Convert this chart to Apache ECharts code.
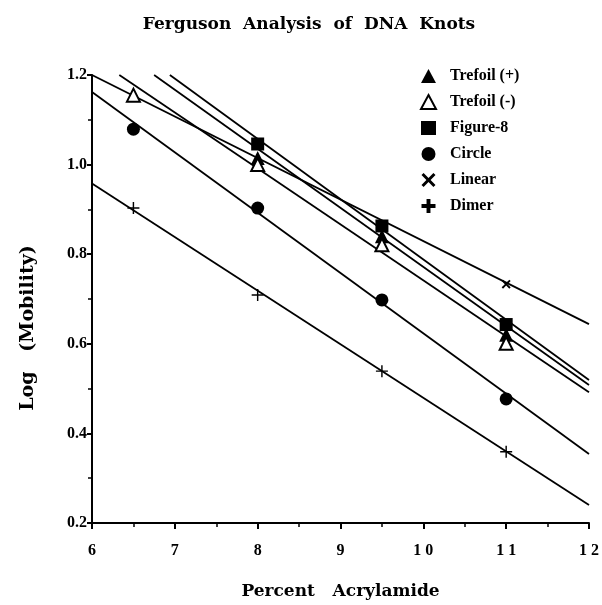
<!DOCTYPE html>
<html>
<head>
  <meta charset="utf-8">
  <title>Ferguson Analysis of DNA Knots</title>
  <style>
    html, body { margin: 0; padding: 0; background: #fff; }
    #main { width: 602px; height: 605px; }
  </style>
</head>
<body>
<div id="main"></div>
<script type="text/javascript" src="https://cdn.jsdelivr.net/npm/echarts@6.0.0/dist/echarts.min.js"></script>
<script type="text/javascript">
// measured points (percent acrylamide, log mobility)
var trefoilPlus  = [[8, 1.015], [9.5, 0.84], [11, 0.62]];
var trefoilMinus = [[6.5, 1.155], [8, 1.0], [9.5, 0.821], [11, 0.601]];
var figure8      = [[8, 1.046], [9.5, 0.863], [11, 0.643]];
var circle       = [[6.5, 1.079], [8, 0.903], [9.5, 0.698], [11, 0.477]];
var linear       = [[11, 0.733]];
var dimer        = [[6.5, 0.903], [8, 0.709], [9.5, 0.539], [11, 0.359]];

// fitted lines, end points
var fitLinear       = [[6, 1.2], [12, 0.644]];
var fitTrefoilMinus = [[6.33, 1.2], [12, 0.492]];
var fitTrefoilPlus  = [[6.75, 1.2], [12, 0.508]];
var fitFigure8      = [[6.94, 1.2], [12, 0.519]];
var fitCircle       = [[6, 1.162], [12, 0.354]];
var fitDimer        = [[6, 0.958], [12, 0.24]];

var legendNames = ['Trefoil (+)', 'Trefoil (-)', 'Figure-8', 'Circle', 'Linear', 'Dimer'];

var serif = 'Liberation Serif';
var wide = 'DejaVu Serif';
var thinPlus = 'path://M4.4,0H5.6V4.4H10V5.6H5.6V10H4.4V5.6H0V4.4H4.4Z';
var boldPlus = 'path://M3.6,0H6.4V3.6H10V6.4H6.4V10H3.6V6.4H0V3.6H3.6Z';
var cross = 'path://M1.5,0L5,3.5L8.5,0L10,1.5L6.5,5L10,8.5L8.5,10L5,6.5L1.5,10L0,8.5L3.5,5L0,1.5Z';

function fitLine(data) {
    return {
        type: 'line',
        data: data,
        symbol: 'none',
        silent: true,
        z: 2,
        lineStyle: { color: '#000', width: 1.8 },
        animation: false
    };
}

function points(name, data, symbol, size, style) {
    style.opacity = 1;
    return {
        name: name,
        type: 'scatter',
        data: data,
        symbol: symbol,
        symbolSize: size,
        z: 5,
        itemStyle: style,
        animation: false
    };
}

var legendData = [];
for (var i = 0; i < legendNames.length; i++) {
    var item = { name: legendNames[i] };
    if (legendNames[i] === 'Linear') item.icon = cross;
    if (legendNames[i] === 'Dimer') item.icon = boldPlus;
    legendData.push(item);
}

var chart = echarts.init(document.getElementById('main'));
chart.setOption({
    backgroundColor: '#fff',
    title: {
        text: 'Ferguson  Analysis  of  DNA  Knots',
        left: 304,
        textAlign: 'center',
        top: 11,
        textStyle: { fontFamily: wide, fontWeight: 'bold', fontSize: 17, color: '#000' }
    },
    legend: {
        data: legendData,
        orient: 'vertical',
        left: 420,
        top: 68,
        padding: 0,
        itemWidth: 15,
        itemHeight: 14,
        itemGap: 10,
        textStyle: { fontFamily: serif, fontWeight: 'bold', fontSize: 16, color: '#000', padding: [0, 0, 0, 9] }
    },
    grid: { left: 92, right: 11, top: 75, bottom: 76 },
    xAxis: {
        type: 'value',
        min: 6,
        max: 12,
        interval: 1,
        name: 'Percent   Acrylamide',
        nameLocation: 'middle',
        nameGap: 60,
        nameTextStyle: { fontFamily: wide, fontWeight: 'bold', fontSize: 17, color: '#000' },
        axisLine: { lineStyle: { color: '#000', width: 2 } },
        axisTick: { inside: false, length: 6, lineStyle: { color: '#000', width: 2 } },
        minorTick: { show: true, splitNumber: 2, length: 4, lineStyle: { color: '#000', width: 1.5 } },
        splitLine: { show: false },
        axisLabel: {
            margin: 20,
            fontFamily: serif, fontWeight: 'bold', fontSize: 16, color: '#000',
            formatter: function (v) { return String(v).split('').join(' '); }
        }
    },
    yAxis: {
        type: 'value',
        min: 0.2,
        max: 1.2,
        interval: 0.2,
        axisLine: { lineStyle: { color: '#000', width: 2 } },
        axisTick: { inside: false, length: 5, lineStyle: { color: '#000', width: 2 } },
        minorTick: { show: true, splitNumber: 2, length: 4, lineStyle: { color: '#000', width: 1.5 } },
        splitLine: { show: false },
        axisLabel: {
            margin: 5,
            fontFamily: serif, fontWeight: 'bold', fontSize: 16, color: '#000',
            formatter: function (v) { return v.toFixed(1); }
        }
    },
    graphic: [{
        type: 'text',
        x: 28,
        y: 328,
        rotation: Math.PI / 2,
        style: {
            text: 'Log   (Mobility)',
            fill: '#000',
            font: 'bold 19px "DejaVu Serif"',
            textAlign: 'center',
            textVerticalAlign: 'middle'
        }
    }],
    series: [
        fitLine(fitLinear),
        fitLine(fitTrefoilMinus),
        fitLine(fitTrefoilPlus),
        fitLine(fitFigure8),
        fitLine(fitCircle),
        fitLine(fitDimer),
        points('Trefoil (+)', trefoilPlus, 'triangle', 14, { color: '#000' }),
        points('Trefoil (-)', trefoilMinus, 'triangle', 13, { color: '#fff', borderColor: '#000', borderWidth: 2 }),
        points('Figure-8', figure8, 'rect', 13, { color: '#000' }),
        points('Circle', circle, 'circle', 13, { color: '#000' }),
        points('Linear', linear, cross, 9, { color: '#000' }),
        points('Dimer', dimer, thinPlus, 12, { color: '#000' })
    ]
});
</script>
</body>
</html>
